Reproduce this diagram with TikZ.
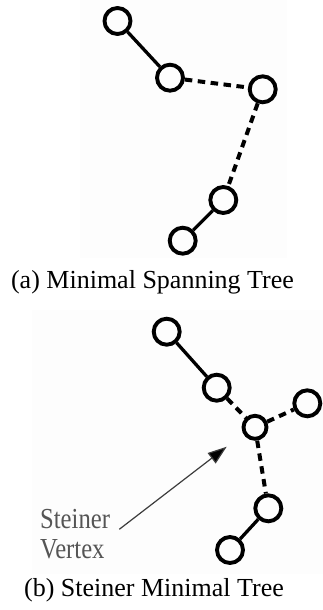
\documentclass[tikz,border=0pt]{standalone}
\usepackage{fontspec}
\setmainfont{Liberation Serif}
\usetikzlibrary{arrows.meta}
\definecolor{panel}{RGB}{253,253,253}
\definecolor{labelgray}{RGB}{85,85,85}
\definecolor{arrowgray}{RGB}{60,60,60}
\tikzset{
  vertex/.style={circle, draw=black, line width=3.9pt, minimum size=26pt, inner sep=0pt},
  steiner/.style={vertex, minimum size=23pt},
  treeedge/.style={line width=3.3pt},
  newedge/.style={line width=4pt, dash pattern=on 7.5pt off 5.5pt},
  caption/.style={font=\fontsize{26}{30}\selectfont, anchor=base},
  note/.style={font=\fontsize{29}{31}\selectfont, text=labelgray, xscale=0.85, anchor=base west, inner sep=0pt}
}
\begin{document}
\begin{tikzpicture}[x=1pt, y=-1pt]
  \useasboundingbox (0,0) rectangle (323,610);
  \fill[white] (0,0) rectangle (323,610);
  % faint scan panels behind the two trees
  \fill[panel] (80,0) rectangle (287,258);
  \fill[panel] (32,310) rectangle (323,574);

  % (a) minimal spanning tree
  \node[vertex] (a1) at (117.5,21) {};
  \node[vertex] (a2) at (170,77.7) {};
  \node[vertex] (a3) at (262.7,89.3) {};
  \node[vertex] (a4) at (223.3,200) {};
  \node[vertex] (a5) at (182.7,240.7) {};
  \draw[treeedge] (a1) -- (a2);
  \draw[newedge] (a2) -- (a3);
  \draw[newedge] (a3) -- (a4);
  \draw[treeedge] (a4) -- (a5);
  \node[caption] (capa) at (152.5,288) {(a) Minimal Spanning Tree};

  % (b) Steiner minimal tree
  \node[vertex] (b1) at (166.7,331.7) {};
  \node[vertex] (b2) at (216.7,387.7) {};
  \node[vertex] (b3) at (307.3,403.3) {};
  \node[steiner] (s) at (255,427.3) {};
  \node[vertex] (b5) at (268.3,508.3) {};
  \node[vertex] (b6) at (230,550) {};
  \draw[treeedge] (b1) -- (b2);
  \draw[newedge] (b2) -- (s);
  \draw[newedge] (s) -- (b3);
  \draw[newedge] (s) -- (b5);
  \draw[treeedge] (b5) -- (b6);

  \node[note] (sv1) at (40,528) {Steiner};
  \node[note] (sv2) at (40,558.3) {Vertex};
  \coordinate (tail) at (119.3,529.3);
  \coordinate (tip) at (226.7,446.7);
  \draw[arrowgray, line width=1.2pt, -{Triangle[length=19pt,width=13pt,fill=black]}] (tail) -- (tip);

  \node[caption] (capb) at (154,596.7) {(b) Steiner Minimal Tree};
\end{tikzpicture}
\end{document}
